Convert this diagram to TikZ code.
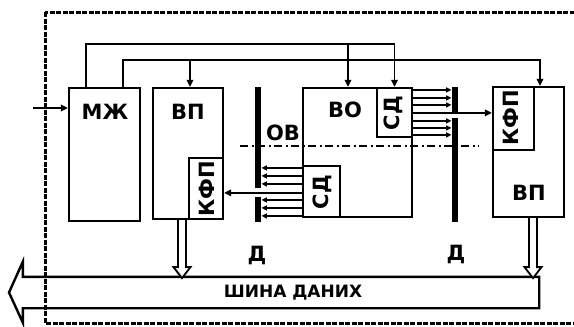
\documentclass[tikz,border=0pt]{standalone}
\usepackage{fontspec}
\setmainfont{DejaVu Sans}
\usetikzlibrary{arrows.meta, calc}
\tikzset{
  blk/.style={draw, line width=2.2pt, inner sep=0pt},
  bar/.style={fill, inner sep=0pt, minimum width=6.5},
  lbl/.style={font=\fontsize{21}{21}\selectfont\bfseries, inner sep=0pt},
  vlbl/.style={lbl, rotate=90},
  arc/.style={-{Triangle[length=7pt, width=6.5pt]}, line width=1.8pt},
  tick/.style={-{Triangle[length=5.5pt, width=5pt]}, line width=1.5pt},
  frame/.style={line width=3pt, dash pattern=on 5pt off 1.5pt},
  axis/.style={line width=2.5pt, dash pattern=on 8pt off 3.5pt on 2pt off 3.5pt},
  hollow/.style={line width=1.8pt, fill=white, line join=miter},
  buswall/.style={line width=2.4pt}
}

\begin{document}
\begin{tikzpicture}[x=1pt, y=-1pt]
  \useasboundingbox (0,0) rectangle (574,327);
  % blocks
  \node[blk, minimum width=71, minimum height=133] (mzh) at (104.5,154.5) {};
  \node[blk, minimum width=70, minimum height=131] (vpl) at (188,153.5) {};
  \node[blk, minimum width=34, minimum height=61] (kfpl) at (206,188.5) {};
  \node[blk, minimum width=109, minimum height=129] (vo) at (357.5,152.5) {};
  \node[blk, minimum width=35, minimum height=49] (sdu) at (394.5,112.5) {};
  \node[blk, minimum width=37, minimum height=51] (sdl) at (321.5,191.5) {};
  \node[blk, minimum width=71, minimum height=130] (vpr) at (528.5,152) {};
  \node[blk, minimum width=41, minimum height=63] (kfpr) at (513.5,118.5) {};
  % labels
  \node[lbl] (tmzh) at (105,112) {МЖ};
  \node[lbl] (tvpl) at (188,112) {ВП};
  \node[lbl] (tvo) at (345,110) {ВО};
  \node[lbl] (tov) at (283,133) {ОВ};
  \node[lbl] (tvpr) at (529,193) {ВП};
  \node[vlbl] (tkfpl) at (207,189) {КФП};
  \node[vlbl] (tkfpr) at (511,118) {КФП};
  \node[vlbl] (tsdu) at (393,113) {СД};
  \node[vlbl] (tsdl) at (322,192) {СД};
  \node[lbl] (td1) at (257,255) {Д};
  \node[lbl] (td2) at (456,254) {Д};
  % bars
  \node[bar, minimum height=101] (bl1) at (258,137.5) {};
  \node[bar, minimum height=25] (bl2) at (258,209.5) {};
  \node[bar, minimum height=25] (br1) at (455,99.5) {};
  \node[bar, minimum height=104] (br2) at (455,170) {};
  % control lines
  \coordinate (ca) at (86,44);
  \coordinate (cb) at (123,60);
  \coordinate (ja) at (348,44);
  \coordinate (jb) at (190,60);
  \coordinate (jc) at (540,60);
  \draw[arc] (ca |- mzh.north) -- (ca) -| (sdu.north);
  \draw[arc] (ja) -- (ja |- vo.north);
  \draw[arc] (cb |- mzh.north) -- (cb) -- (jc) -- (jc |- vpr.north);
  \draw[arc] (jb) -- (jb |- vpl.north);
  \coordinate (in) at (33,108);
  \draw[arc] (in) -- (in -| mzh.west);
  % data strobes
  \foreach \d in {3,11,18,34,41,48}
    \draw[tick] ($(sdu.north east)+(0,\d)$) coordinate (s) -- (s -| br1.west);
  \foreach \d in {3,11,19,35,43,51}
    \draw[tick] ($(sdl.north west)+(0,\d)$) coordinate (s) -- (s -| bl1.east);
  \draw[arc] ($(sdu.north east)+(0,26)$) coordinate (s) -- (s -| kfpr.west);
  \draw[arc] ($(sdl.north west)+(0,28)$) coordinate (s) -- (s -| kfpl.east);
  \coordinate (ax) at (240,146);
  \draw[axis] (ax) -- ++(239,0);
  % bus
  \node[minimum width=516, minimum height=31, inner sep=0pt] (bus) at (281,292.5) {};
  \draw[buswall] (bus.north east) -- (bus.north west) -- ++(0,-15) -- (9,292.5)
    -- (23,323) -- (bus.south west) -- (bus.south east) -- cycle;
  \node[font=\fontsize{17}{17}\selectfont\bfseries] (tbus) at (293,293) {ШИНА ДАНИХ};
  \draw[hollow] ($(vpl.south)+(-10,0)$) -- ++(0,47) -- ++(-4.5,0) -- ++(8.5,11)
    -- ++(8.5,-11) -- ++(-4.5,0) -- ++(0,-47);
  \draw[hollow] ($(vpr.south)+(0.5,0)$) -- ++(0,49) -- ++(-4.5,0) -- ++(8.5,11)
    -- ++(8.5,-11) -- ++(-4.5,0) -- ++(0,-49);
  % frame
  \draw[frame] (45,12) rectangle (600,323);
\end{tikzpicture}
\end{document}
